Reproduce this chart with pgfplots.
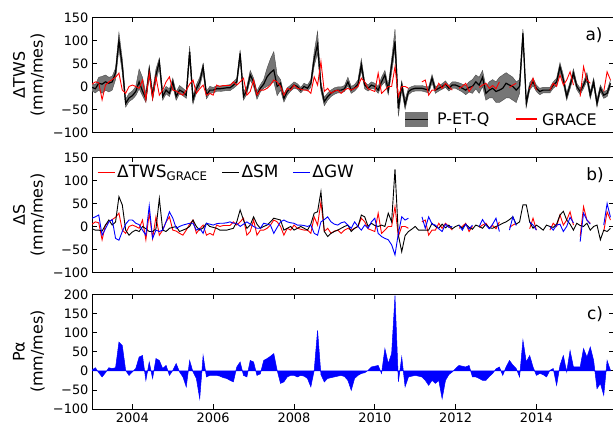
\documentclass[border=0pt]{standalone}
\usepackage{fontspec}
\setmainfont{DejaVu Sans}
\usepackage{pgfplots}
\pgfplotsset{compat=1.18}
\usepackage{pgfplotstable}
\usepgfplotslibrary{fillbetween}

\definecolor{band}{RGB}{118,118,118}
\definecolor{grace}{RGB}{255,0,0}

% k = months since Jan 2003
\pgfplotstableread{
k lo mid hi tws
0 -10 -2 6 5
1 -14 -5 4 10
2 -8 7 20 8
3 -15 5 22 -29
4 -8 10 25 3
5 -12 7 20 10
6 -8 10 22 15
7 15 30 40 20
8 82 100 118 29
9 30 45 60 -8
10 -45 -37 -28 -15
11 -33 -25 -15 0
12 -28 -20 -10 3
13 -20 -11 0 0
14 -5 10 38 -4
15 -20 -10 20 14
16 -35 -26 -15 -29
17 22 36 45 29
18 -30 -22 -10 -26
19 12 25 38 21
20 40 54 62 -19
21 -30 -22 -12 -8
22 -16 -8 0 10
23 -22 -15 -5 21
24 0 10 18 -8
25 -30 -22 -12 -10
26 -16 -8 2 -15
27 -20 -12 -4 -19
28 -26 -19 -10 -8
29 60 76 88 5
30 -38 -29 -20 14
31 -14 -5 4 -15
32 0 10 20 -5
33 30 43 50 3
34 -27 -19 -10 -19
35 -15 -8 0 -15
36 -14 -8 -2 -19
37 -11 -5 1 3
38 -11 -5 1 0
39 -10 -4 2 2
40 -9 -3 3 2
41 -9 -3 4 2
42 -4 3 10 10
43 2 10 18 3
44 58 72 80 10
45 -30 -22 -12 18
46 -16 -8 0 -19
47 14 25 35 -11
48 0 10 18 14
49 -28 -19 -10 -19
50 -12 -4 4 -8
51 -4 5 15 -8
52 0 21 40 -4
53 5 30 60 3
54 10 36 76 14
55 -20 0 25 10
56 -8 7 15 0
57 -34 -26 -16 -19
58 -19 -11 -3 -4
59 -10 -4 3 -8
60 -4 3 10 3
61 -6 0 6 -4
62 -14 -8 -2 -6
63 -6 0 7 -8
64 -10 -4 3 -8
65 -2 7 15 -15
66 45 60 75 21
67 72 92 120 3
68 -10 0 10 54
69 -42 -33 -24 -11
70 -30 -22 -14 -4
71 -22 -15 -8 -15
72 -17 -10 -3 -10
73 -14 -8 -1 -8
74 -14 -8 -1 -15
75 -11 -5 2 -8
76 2 10 20 -4
77 -15 -8 0 -8
78 -10 -3 4 -4
79 -2 5 14 0
80 35 47 60 18
81 -5 3 10 10
82 -10 -4 3 -5
83 -4 3 10 -8
84 -6 0 7 -11
85 -15 -8 0 29
86 2 10 20 -15
87 10 25 35 -8
88 -18 -8 2 0
89 30 47 60 0
90 80 98 125 43
91 -65 -48 -35 -22
92 -8 3 12 0
93 -50 -40 -28 0
94 -18 -11 -4 -4
95 -12 -6 0 nan
96 -10 -4 2 nan
97 -10 -4 2 nan
98 -10 -4 2 10
99 -12 -6 0 14
100 -14 -8 -1 -19
101 8 18 26 -8
102 -15 -8 0 -8
103 -10 -4 2 7
104 -6 0 6 -4
105 -2 5 12 7
106 -10 -4 2 0
107 -4 3 10 -8
108 -4 3 10 nan
109 -8 0 8 -4
110 -12 -4 5 0
111 -18 -8 2 7
112 -12 -2 10 -11
113 -15 0 15 0
114 -5 10 25 nan
115 -15 3 20 -2
116 0 20 35 3
117 -30 -15 0 7
118 -25 -8 10 -4
119 -25 -4 15 2
120 -35 -11 10 -5
121 -35 -8 20 10
122 -30 -4 25 nan
123 -25 7 30 nan
124 -25 3 25 -2
125 -30 0 20 3
126 -35 -8 10 7
127 -15 0 15 nan
128 100 116 125 nan
129 -45 -37 -28 nan
130 -8 0 8 -5
131 2 10 18 18
132 -11 -4 3 -8
133 -18 -11 -4 nan
134 -14 -8 -2 nan
135 -14 -8 -2 nan
136 -14 -8 -2 -8
137 -4 3 10 7
138 2 10 18 0
139 32 43 52 25
140 5 15 25 3
141 -30 -22 -14 14
142 -5 3 10 32
143 20 29 38 3
144 -7 0 7 nan
145 -18 -11 -4 -22
146 -4 3 10 43
147 12 21 30 14
148 -27 -19 -11 7
149 2 10 18 nan
150 -45 -37 -28 nan
151 -11 -4 3 nan
152 -26 -19 -12 -11
153 -22 -15 -8 32
154 0 7 14 14
}\dataA

\pgfplotstableread{
k sm gw
0 -5 18
1 -8 21
2 -8 25
3 -10 -19
4 3 -5
5 14 10
6 3 15
7 10 -26
8 65 -30
9 47 -11
10 -8 5
11 -19 14
12 -12 14
13 -8 7
14 -11 4
15 0 -8
16 -5 -19
17 -11 45
18 -11 -26
19 -5 -8
20 61 -11
21 -8 -8
22 -11 10
23 -4 32
24 -2 18
25 0 -4
26 -11 0
27 -8 3
28 -5 5
29 0 7
30 14 7
31 0 -8
32 -8 -4
33 -3 -15
34 7 7
35 0 5
36 -2 3
37 -4 6
38 -8 7
39 -8 7
40 -8 8
41 -6 10
42 -4 7
43 10 7
44 36 0
45 14 5
46 -4 10
47 3 5
48 21 0
49 5 -4
50 -4 -4
51 0 7
52 3 5
53 10 3
54 18 -15
55 16 -2
56 14 10
57 -8 14
58 -4 10
59 0 8
60 -8 7
61 -4 3
62 0 3
63 -4 2
64 -8 0
65 5 3
66 29 -15
67 32 -19
68 76 10
69 -11 15
70 -22 21
71 -15 10
72 -11 5
73 -8 3
74 -4 8
75 0 10
76 3 3
77 -11 -4
78 -4 10
79 0 0
80 25 -8
81 21 3
82 0 -4
83 7 10
84 2 18
85 0 -15
86 3 -22
87 0 -26
88 29 -29
89 10 -40
90 125 -62
91 -19 -15
92 -55 21
93 -20 14
94 -11 18
95 -6 nan
96 0 nan
97 -8 nan
98 -8 21
99 -8 -4
100 -8 21
101 7 5
102 0 3
103 -4 -5
104 5 -11
105 -3 5
106 3 -2
107 -5 0
108 0 nan
109 3 3
110 -4 -8
111 5 5
112 -2 -6
113 -6 3
114 3 nan
115 0 0
116 -4 15
117 5 3
118 -3 -5
119 -4 5
120 0 18
121 3 -11
122 7 nan
123 10 nan
124 15 -8
125 21 21
126 5 2
127 10 nan
128 47 nan
129 47 nan
130 10 10
131 -4 3
132 3 -8
133 -2 nan
134 -8 nan
135 3 nan
136 0 0
137 -2 -8
138 5 3
139 25 5
140 33 -11
141 14 0
142 5 20
143 -8 8
144 7 nan
145 2 -33
146 0 29
147 7 14
148 -8 5
149 0 nan
150 3 nan
151 -29 nan
152 -8 3
153 -11 50
154 -4 20
}\dataB

\pgfplotstableread{
k pa
0 2
1 8
2 -5
3 -16
4 -5
5 8
6 6
7 8
8 75
9 66
10 1
11 -12
12 -3
13 6
14 36
15 40
16 -25
17 23
18 -20
19 32
20 27
21 6
22 14
23 -12
24 1
25 19
26 -3
27 -16
28 -42
29 27
30 -3
31 -20
32 -73
33 40
34 -16
35 -12
36 -12
37 -12
38 -14
39 -18
40 -20
41 -25
42 -29
43 10
44 23
45 -12
46 -16
47 27
48 23
49 -12
50 -8
51 27
52 32
53 38
54 45
55 1
56 -33
57 -29
58 -16
59 -12
60 -12
61 -16
62 -12
63 -14
64 -20
65 -42
66 1
67 106
68 -10
69 -29
70 -20
71 -18
72 -16
73 -14
74 -12
75 -15
76 -25
77 -51
78 -20
79 -12
80 -7
81 -5
82 1
83 10
84 12
85 14
86 -7
87 58
88 19
89 45
90 197
91 -29
92 36
93 -42
94 -16
95 -14
96 -12
97 -14
98 -16
99 -25
100 -38
101 -25
102 -33
103 -25
104 -73
105 -25
106 -10
107 -3
108 6
109 14
110 12
111 10
112 14
113 -16
114 -16
115 -20
116 -25
117 -25
118 -15
119 -7
120 5
121 10
122 -12
123 10
124 27
125 15
126 6
127 -16
128 80
129 23
130 40
131 10
132 -12
133 -7
134 -10
135 -16
136 1
137 6
138 -38
139 14
140 40
141 -3
142 53
143 10
144 10
145 10
146 58
147 36
148 62
149 27
150 -47
151 -33
152 -64
153 27
154 1
}\dataC

\pgfplotsset{
  panel/.style={
    scale only axis, width=521.5bp, height=114.6bp, anchor=south west,
    xmin=0, xmax=154.9,
    xtick={12,36,60,84,108,132}, xticklabels={},
    tick align=inside, major tick length=4.5bp,
    axis line style={line width=0.8bp},
    every tick/.style={black, line width=0.8bp},
    tick label style={font=\fontsize{13}{13}\selectfont},
    /pgf/number format/assume math mode=true,
    ylabel style={at={(axis description cs:-0.121,0.5)}, anchor=center,
      align=center, font=\fontsize{16}{18}\selectfont},
    unbounded coords=jump,
  },
  ab/.style={ymin=-100, ymax=150, ytick={-100,-50,0,50,100,150},
    yticklabels={−100,−50,0,50,100,150}},
}

\begin{document}
\begin{tikzpicture}
% panel a
\begin{axis}[panel, ab, at={(92bp,298.7bp)},
  ylabel={ΔTWS\\(mm/mes)}]
\addplot[name path=hi, draw=black!70, line width=0.4bp] table[x=k,y=hi]{\dataA};
\addplot[name path=lo, draw=black!70, line width=0.4bp] table[x=k,y=lo]{\dataA};
\addplot[band] fill between[of=hi and lo];
\addplot[black, line width=1.2bp] table[x=k,y=mid]{\dataA};
\addplot[grace, line width=0.9bp] table[x=k,y=tws]{\dataA};
\end{axis}
% legend of panel a
\fill[band] (405bp,304bp) rectangle (428bp,319bp);
\draw[black, line width=1.2bp] (405bp,311.5bp) -- (428bp,311.5bp);
\node[anchor=west, inner sep=0pt, font=\fontsize{16}{16}\selectfont] at (437bp,311.5bp) {P-ET-Q};
\fill[grace] (516bp,310.5bp) rectangle (537bp,312.5bp);
\node[anchor=west, inner sep=0pt, font=\fontsize{16}{16}\selectfont] at (542bp,311.5bp) {GRACE};
% panel b
\begin{axis}[panel, ab, at={(92bp,158.7bp)},
  ylabel={ΔS\\(mm/mes)},
  legend style={draw=none, fill=none, at={(axis description cs:0.004,0.875)},
    anchor=west, legend columns=3, font=\fontsize{17}{17}\selectfont,
    /tikz/every even column/.append style={column sep=12bp}},
  legend cell align=left]
\addplot[grace, line width=0.9bp] table[x=k,y=tws]{\dataA};
\addlegendentry{ΔTWS\textsubscript{GRACE}}
\addplot[black, line width=0.9bp] table[x=k,y=sm]{\dataB};
\addlegendentry{ΔSM}
\addplot[blue, line width=0.9bp] table[x=k,y=gw]{\dataB};
\addlegendentry{ΔGW}
\end{axis}
% panel c
\begin{axis}[panel, at={(92bp,22bp)},
  ymin=-100, ymax=200, ytick={-100,-50,0,50,100,150,200},
  yticklabels={−100,−50,0,50,100,150,200},
  xticklabels={2004,2006,2008,2010,2012,2014},
  ylabel={Pα\\(mm/mes)}]
\addplot[fill=blue, draw=blue, line width=0.5bp] table[x=k,y=pa]{\dataC} \closedcycle;
\end{axis}
\node[font=\fontsize{17}{17}\selectfont] at (594bp,395.5bp) {a)};
\node[font=\fontsize{17}{17}\selectfont] at (595bp,255.5bp) {b)};
\node[font=\fontsize{17}{17}\selectfont] at (595bp,117bp) {c)};
\pgfresetboundingbox
\useasboundingbox (0,0) rectangle (613bp,431bp);
\end{tikzpicture}
\end{document}
